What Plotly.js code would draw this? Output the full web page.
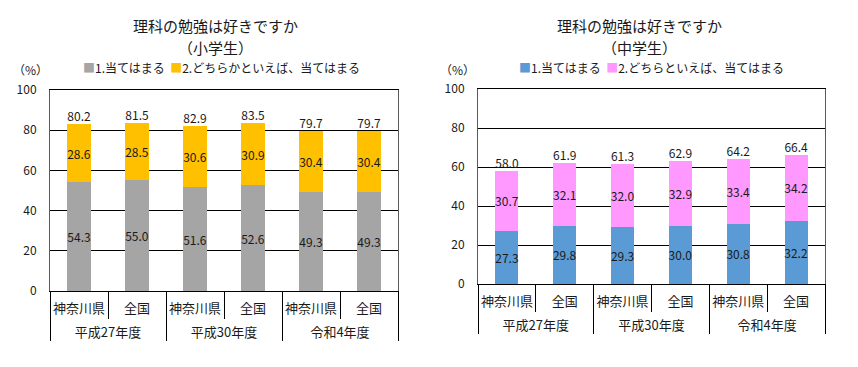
<!DOCTYPE html>
<html><head><meta charset="utf-8">
<script src="https://cdn.plot.ly/plotly-3.0.1.min.js"></script>
<style>html,body{margin:0;padding:0;background:#fff}#chart{width:858px;height:367px}</style>
</head><body><div id="chart"></div>
<script>
const years = ['平成27年度','平成27年度','平成30年度','平成30年度','令和4年度','令和4年度'];
const regions = ['神奈川県','全国','神奈川県','全国','神奈川県','全国'];
const seriesNames = ['1.当てはまる'];
const seriesNames2Elem = '2.どちらかといえば、当てはまる';
const seriesNames2Mid = '2.どちらといえば、当てはまる';
// 小学生
const elem1 = [54.3, 55.0, 51.6, 52.6, 49.3, 49.3];
const elem2 = [28.6, 28.5, 30.6, 30.9, 30.4, 30.4];
const elemTotalLabels = ['80.2','81.5','82.9','83.5','79.7','79.7'];
// 中学生
const mid1 = [27.3, 29.8, 29.3, 30.0, 30.8, 32.2];
const mid2 = [30.7, 32.1, 32.0, 32.9, 33.4, 34.2];
const midTotalLabels = ['58.0','61.9','61.3','62.9','64.2','66.4'];
const yTicks = [0, 20, 40, 60, 80, 100];

const FONT = '"Noto Sans CJK JP", "Noto Sans", sans-serif';
const TXT = '#1a1a1a';
// invisible taller space on both sides of the first-level label: gives room before the second level
const PAD = '<span style="font-size:19px"> </span>';
const xcat = [years, regions.map(r => PAD + r + PAD)];
const sum = (a, b) => a.map((v, i) => v + b[i]);

function barTrace(y, name, color, xa, ya) {
  return {type: 'bar', x: xcat, y: y, name: name, xaxis: xa, yaxis: ya,
    marker: {color: color, line: {width: 0}},
    texttemplate: '%{y:.1f}', textposition: 'inside', insidetextanchor: 'middle',
    constraintext: 'none', textangle: 0,
    textfont: {family: FONT, size: 12, color: TXT}, showlegend: false, hoverinfo: 'skip'};
}
function totalTrace(y, labels, xa, ya) {
  return {type: 'scatter', mode: 'text', x: xcat, y: y, text: labels, xaxis: xa, yaxis: ya,
    textposition: 'top center', textfont: {family: FONT, size: 12, color: TXT},
    cliponaxis: false, showlegend: false, hoverinfo: 'skip'};
}

const data = [
  barTrace(elem1, seriesNames[0], '#A5A5A5', 'x', 'y'),
  barTrace(elem2, seriesNames2Elem, '#FFC000', 'x', 'y'),
  totalTrace(sum(elem1, elem2), elemTotalLabels, 'x', 'y'),
  barTrace(mid1, seriesNames[0], '#5B9BD5', 'x2', 'y2'),
  barTrace(mid2, seriesNames2Mid, '#FF99FF', 'x2', 'y2'),
  totalTrace(sum(mid1, mid2), midTotalLabels, 'x2', 'y2')
];

function xaxis(domain, anchor) {
  return {type: 'multicategory', domain: domain, anchor: anchor,
    showline: true, mirror: true, linecolor: '#000', linewidth: 1,
    ticks: 'outside', tickson: 'boundaries', ticklen: 27, tickcolor: '#000', tickwidth: 1,
    showdividers: true, dividercolor: '#000', dividerwidth: 1, tickangle: 0,
    ticklabelstandoff: 5,
    tickfont: {family: FONT, size: 13, color: TXT}, automargin: false, fixedrange: true};
}
function yaxis(domain, anchor) {
  return {domain: domain, anchor: anchor, range: [0, 100], tickvals: yTicks,
    showgrid: true, gridcolor: '#000', gridwidth: 1, zeroline: false,
    showline: true, mirror: true, linecolor: '#595959', linewidth: 1,
    ticks: '', ticklabelstandoff: 10,
    tickfont: {family: FONT, size: 12, color: TXT}, automargin: false, fixedrange: true};
}

function legendText(c1, n1, c2, n2) {
  return '<span style="color:' + c1 + '">■</span>' + n1 + '  <span style="color:' + c2 + '">■</span>' + n2;
}

const annFont = {family: FONT, size: 15, color: TXT};
const annotations = [
  {text: '理科の勉強は好きですか', x: 215/858, y: 1 - 25/367, xref: 'paper', yref: 'paper', showarrow: false, font: annFont, xanchor: 'center', yanchor: 'middle'},
  {text: '（小学生）', x: 215/858, y: 1 - 47/367, xref: 'paper', yref: 'paper', showarrow: false, font: annFont, xanchor: 'center', yanchor: 'middle'},
  {text: legendText('#A5A5A5', seriesNames[0], '#FFC000', seriesNames2Elem), x: 221/858, y: 1 - 68/367, xref: 'paper', yref: 'paper', showarrow: false, font: {family: FONT, size: 12, color: TXT}, xanchor: 'center', yanchor: 'middle'},
  {text: '（%）', x: 30/858, y: 1 - 69/367, xref: 'paper', yref: 'paper', showarrow: false, font: {family: FONT, size: 12, color: TXT}, xanchor: 'center', yanchor: 'middle'},
  {text: '理科の勉強は好きですか', x: 639/858, y: 1 - 25/367, xref: 'paper', yref: 'paper', showarrow: false, font: annFont, xanchor: 'center', yanchor: 'middle'},
  {text: '（中学生）', x: 639/858, y: 1 - 47/367, xref: 'paper', yref: 'paper', showarrow: false, font: annFont, xanchor: 'center', yanchor: 'middle'},
  {text: legendText('#5B9BD5', seriesNames[0], '#FF99FF', seriesNames2Mid), x: 651/858, y: 1 - 68/367, xref: 'paper', yref: 'paper', showarrow: false, font: {family: FONT, size: 12, color: TXT}, xanchor: 'center', yanchor: 'middle'},
  {text: '（%）', x: 457/858, y: 1 - 69/367, xref: 'paper', yref: 'paper', showarrow: false, font: {family: FONT, size: 12, color: TXT}, xanchor: 'center', yanchor: 'middle'}
];

const layout = {
  width: 858, height: 367, margin: {l: 0, r: 0, t: 0, b: 0},
  paper_bgcolor: '#fff', plot_bgcolor: '#fff',
  barmode: 'stack', bargap: 0.6, showlegend: false,
  font: {family: FONT, color: TXT},
  xaxis: xaxis([50/858, 398/858], 'y'),
  yaxis: yaxis([(367-291)/367, (367-90)/367], 'x'),
  xaxis2: xaxis([478/858, 825/858], 'y2'),
  yaxis2: yaxis([(367-284)/367, (367-89)/367], 'x2'),
  annotations: annotations
};
Plotly.newPlot('chart', data, layout, {displayModeBar: false, staticPlot: true});
</script></body></html>
